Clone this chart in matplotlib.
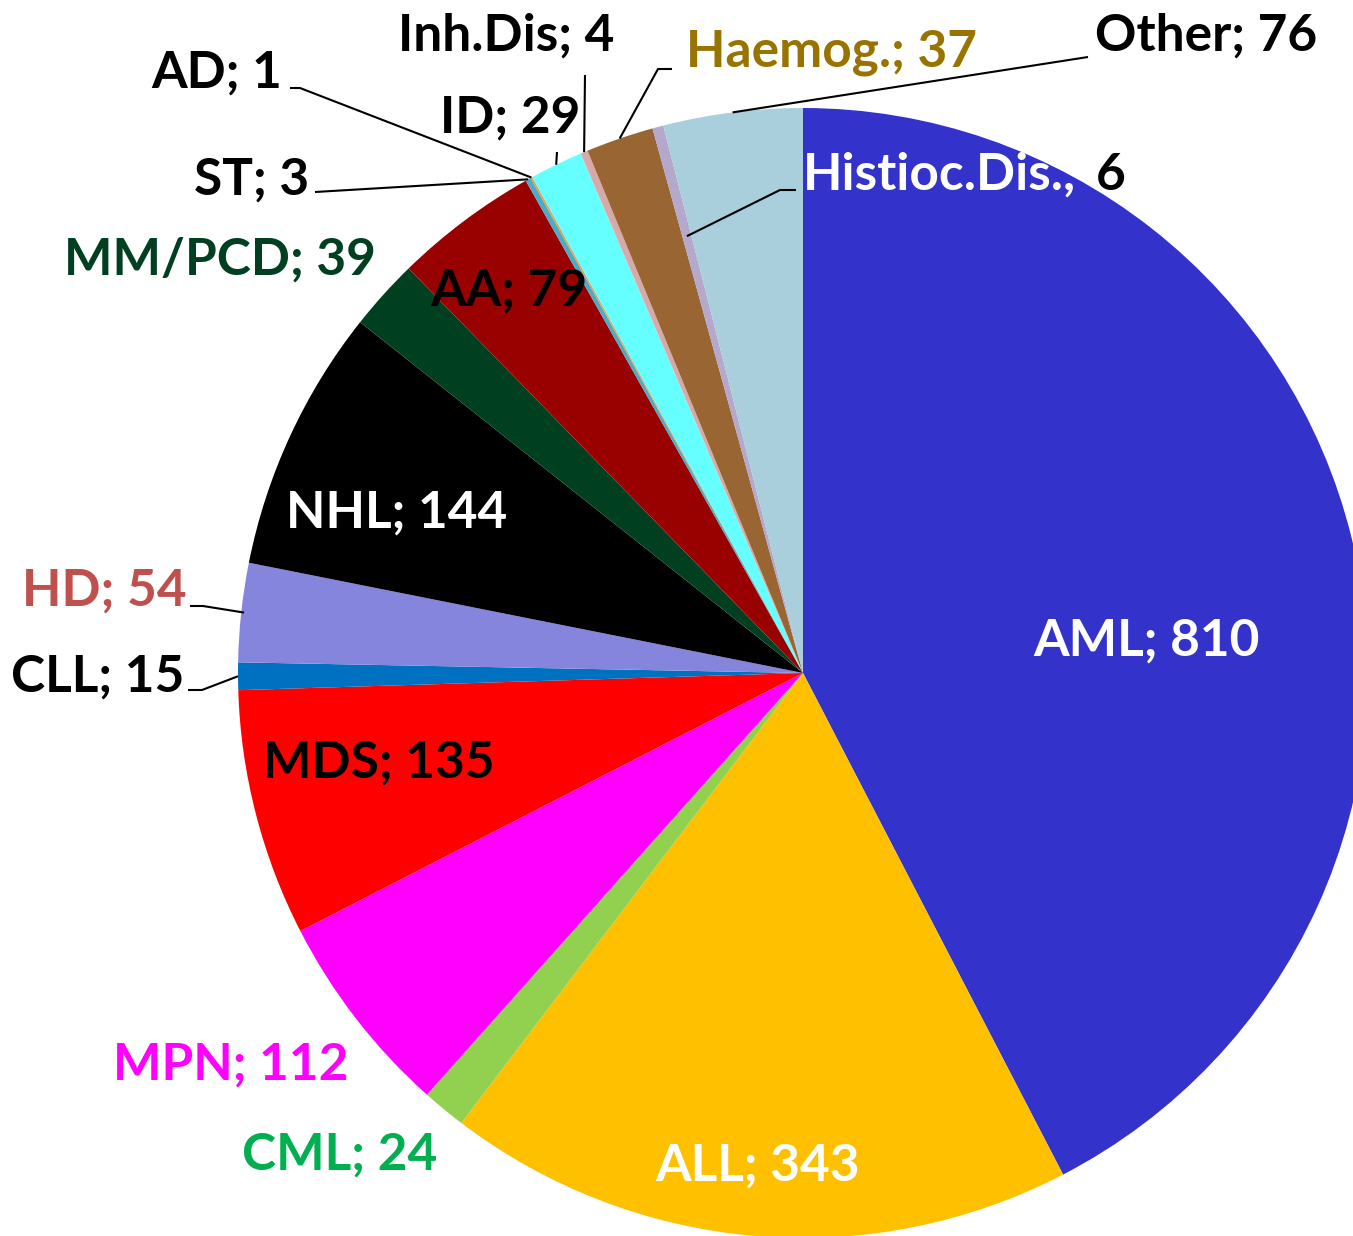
import numpy as np
import matplotlib
matplotlib.use('Agg')
import matplotlib.pyplot as plt

labels = ['AML', 'ALL', 'CML', 'MPN', 'MDS', 'CLL', 'HD', 'NHL', 'MM/PCD', 'AA',
          'ST', 'AD', 'ID', 'Inh.Dis', 'Haemog.', 'Histioc.Dis.', 'Other']
counts = [810, 343, 24, 112, 135, 15, 54, 144, 39, 79, 3, 1, 29, 4, 37, 6, 76]
colors = ['#3333CC', '#FFC000', '#92D050', '#FF00FF', '#FF0000', '#0070C0', '#8585DE',
          '#000000', '#004020', '#990000', '#4BACC6', '#F79646', '#66FFFF', '#D9A9A9',
          '#996633', '#B4A8CC', '#A9CEDC']
text_colors = ['white', 'white', '#00B050', '#FF00FF', 'black', 'black', '#C0504D',
               'white', '#004020', 'black', 'black', 'black', 'black', 'black',
               '#997300', 'white', 'black']

# pie geometry in pixels of the 1353x1236 canvas
W, H = 1353, 1236
CX, CY, R = 803, 673, 565


def px(x, y):
    return ((x - CX) / R, (CY - y) / R)


# label centres (pixels), 'Histioc.Dis.' is left aligned
label_pos = {
    'AML': (1146, 641), 'ALL': (758, 1166), 'CML': (340, 1155), 'MPN': (231, 1065),
    'MDS': (379, 763), 'CLL': (98, 677), 'HD': (104, 591), 'NHL': (397, 513),
    'MM/PCD': (220, 260), 'AA': (509, 291), 'ST': (252, 180), 'AD': (217, 73),
    'ID': (510, 118), 'Inh.Dis': (506, 36), 'Haemog.': (831, 52),
    'Histioc.Dis.': (803, 175), 'Other': (1206, 36),
}
# leader line paths (pixels) before the anchor on the wedge; anchor radius
leaders = {
    'CLL': ([(188, 690), (202, 690)], 1.0),
    'HD': ([(190, 606), (203, 606)], 0.995),
    'ST': ([(315, 192)], 1.0),
    'AD': ([(290, 88), (300, 88)], 1.0),
    'ID': ([(557, 152)], 1.0),
    'Inh.Dis': ([(585, 75)], 1.0),
    'Haemog.': ([(672, 69), (658, 69)], 1.0),
    'Histioc.Dis.': ([(796, 190), (780, 190)], 0.8),
    'Other': ([(1088, 57)], 1.0),
}

fig = plt.figure(figsize=(W / 100, H / 100), dpi=100)
ax = fig.add_axes([0, 0, 1, 1])

wedges, _ = ax.pie(counts, colors=colors, startangle=90, counterclock=False,
                   radius=1.0, center=(0, 0), frame=True,
                   wedgeprops=dict(linewidth=0))
ax.set_xlim(px(0, 0)[0], px(W, 0)[0])
ax.set_ylim(px(0, H)[1], px(0, 0)[1])
ax.set_aspect('equal')
ax.axis('off')

font = dict(family=['Lato', 'DejaVu Sans'], fontweight='bold', fontsize=37)

total = sum(counts)
cum = np.cumsum([0] + counts)
for i, (lab, n) in enumerate(zip(labels, counts)):
    frac = (cum[i] + n / 2) / total
    theta = 2 * np.pi * frac
    x, y = label_pos[lab]
    if lab in leaders:
        pts, r = leaders[lab]
        xs = [px(*p)[0] for p in pts] + [r * np.sin(theta)]
        ys = [px(*p)[1] for p in pts] + [r * np.cos(theta)]
        ax.plot(xs, ys, color='black', lw=1.5, solid_capstyle='butt')
    if lab == 'Histioc.Dis.':
        t = ax.text(*px(x, y), lab + ',', color=text_colors[i], ha='left',
                    va='center', **font)
        fig.canvas.draw()
        x_end = t.get_window_extent().x1
        ax.text(*px(x_end + 20, y), str(n), color='black', ha='left',
                va='center', **font)
    else:
        ax.text(*px(x, y), f'{lab}; {n}', color=text_colors[i], ha='center',
                va='center', **font)

plt.savefig('out.png', dpi=100)
plt.close(fig)
